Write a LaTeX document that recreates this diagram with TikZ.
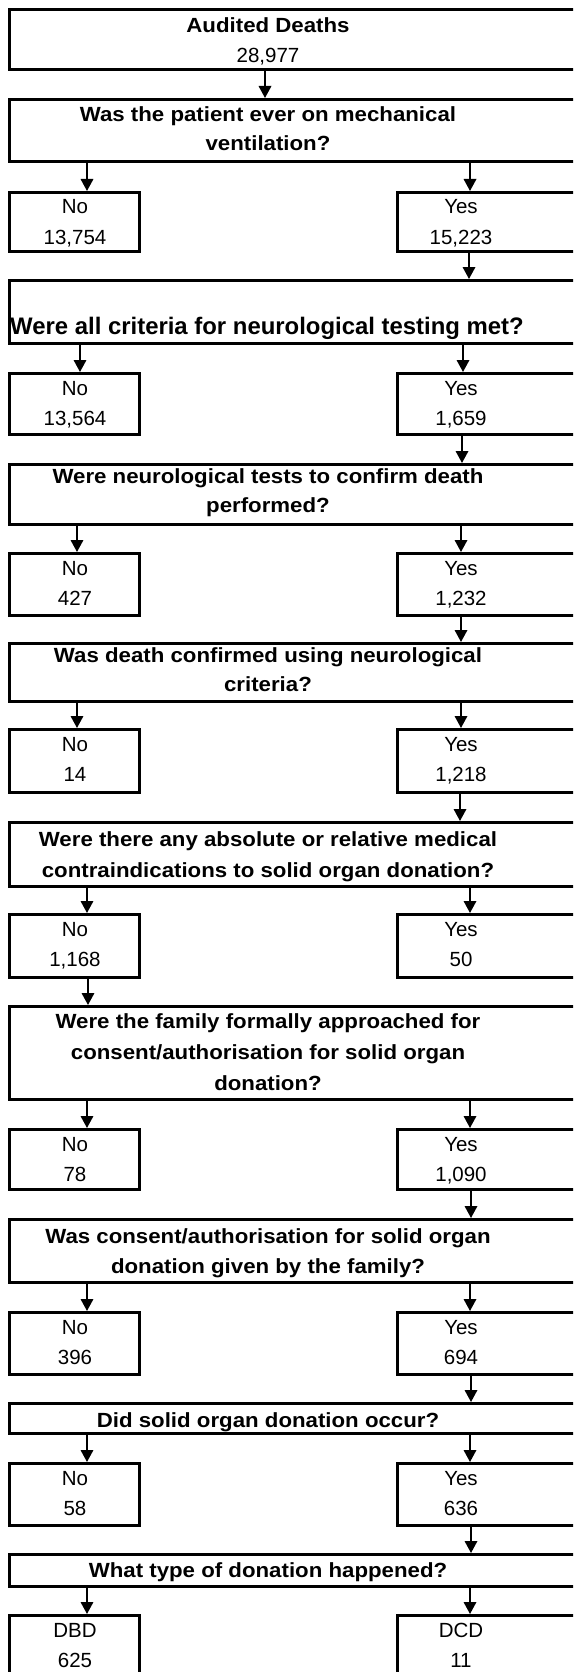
\documentclass[tikz,border=0pt]{standalone}
\usepackage{fontspec}
\setmainfont{Liberation Sans}
\newfontfamily\qfont{Liberation Sans}[FakeStretch=1.085]
\usetikzlibrary{arrows.meta,calc}

\begin{document}
\begin{tikzpicture}[x=1pt, y=-1pt,
  every node/.style={font=\fontsize{20.5}{24}\selectfont, inner sep=0pt},
  qbox/.style={draw, line width=2.6pt, anchor=north west, minimum width=620pt},
  nbox/.style={draw, line width=2.6pt, anchor=north west, minimum width=130pt},
  ybox/.style={draw, line width=2.6pt, anchor=north west, minimum width=230pt},
  qtxt/.style={anchor=base, font=\qfont\fontsize{20.5}{24}\selectfont\bfseries},
  atxt/.style={anchor=base},
  arr/.style={line width=1.8pt, -{Triangle[length=12pt, width=12.5pt]}}]
  \useasboundingbox (0,0) rectangle (573,1672);
  \clip (0,0) rectangle (573,1672);
  % Question boxes
  \foreach \i/\t/\b in {0/8/68, 1/98/160, 2/279/342, 3/463/523, 4/642/700,
    5/821/885, 6/1005/1098, 7/1218/1281, 8/1402/1432, 9/1553/1585}
    \node[qbox, minimum height=\b-\t] (q\i) at (8,\t) {};
  \node[qtxt] (top) at (268,33) {Audited Deaths};
  \node[atxt] (total) at (268,63) {28,977};
  \node[qtxt, font=\fontsize{23.9}{28}\selectfont\bfseries] (crit) at (267,334)
    {Were all criteria for neurological testing met?};
  \foreach \y/\s [count=\k] in {122/Was the patient ever on mechanical, 151/ventilation?,
    483/Were neurological tests to confirm death, 512/performed?,
    662/Was death confirmed using neurological, 691/criteria?,
    846/Were there any absolute or relative medical,
    877/contraindications to solid organ donation?,
    1028/Were the family formally approached for,
    1059/{consent/authorisation for solid organ}, 1090/donation?,
    1243/{Was consent/authorisation for solid organ},
    1273/donation given by the family?,
    1427/Did solid organ donation occur?,
    1577/What type of donation happened?}
    \node[qtxt] (t\k) at (268,\y) {\s};
  % Answer boxes
  \foreach \i/\t/\b/\nl/\nv/\yl/\yv in {1/191/250/No/{13,754}/Yes/{15,223},
    2/372/433/No/{13,564}/Yes/{1,659}, 3/552/614/No/427/Yes/{1,232},
    4/728/791/No/14/Yes/{1,218}, 5/913/976/No/{1,168}/Yes/50,
    6/1128/1188/No/78/Yes/{1,090}, 7/1311/1373/No/396/Yes/694,
    8/1462/1524/No/58/Yes/636, 9/1614/1700/DBD/625/DCD/11} {
    \node[nbox, minimum height=\b-\t] (no\i) at (8,\t) {};
    \node[ybox, minimum height=\b-\t] (yes\i) at (396,\t) {};
    \node[atxt] (nl\i) at (75,\t+23) {\nl};
    \node[atxt] (nv\i) at (75,\t+53) {\nv};
    \node[atxt] (yl\i) at (461,\t+23) {\yl};
    \node[atxt] (yv\i) at (461,\t+53) {\yv};
  }
  % Arrows
  \foreach \a/\b/\c in {q0/q1/265, q1/no1/87, q1/yes1/470, yes1/q2/469,
    q2/no2/80, q2/yes2/463, yes2/q3/462, q3/no3/77, q3/yes3/461,
    yes3/q4/461, q4/no4/77, q4/yes4/461, yes4/q5/460, q5/no5/87,
    q5/yes5/470, no5/q6/88, q6/no6/87, q6/yes6/470, yes6/q7/471,
    q7/no7/87, q7/yes7/470, yes7/q8/471, q8/no8/87, q8/yes8/470,
    yes8/q9/471, q9/no9/87, q9/yes9/470}
    \draw[arr] let \p1=(\a.south), \p2=(\b.north) in (\c pt,\y1) -- (\c pt,\y2);
\end{tikzpicture}
\end{document}
